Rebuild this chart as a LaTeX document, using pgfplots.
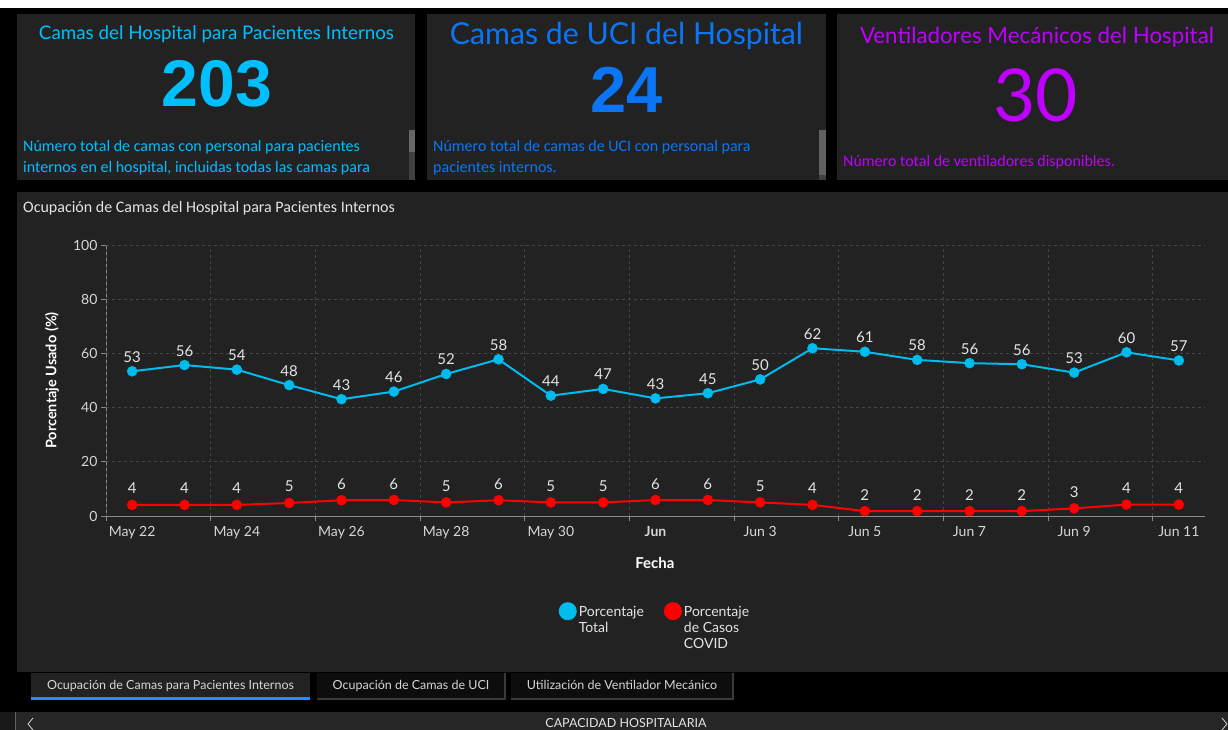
\documentclass[border=0pt]{standalone}
\usepackage{pgfplots}
\pgfplotsset{compat=1.18}
\usepackage{fontspec}
\setmainfont{Lato}
\newfontfamily\carl{Carlito}
\newfontfamily\arial{Liberation Sans}
\definecolor{cPanel}{HTML}{222222}
\definecolor{cCyan}{HTML}{00BFFF}
\definecolor{cBlue}{HTML}{0A76F5}
\definecolor{cPurple}{HTML}{BF00FF}
\definecolor{cLineBlue}{HTML}{00BBEE}
\definecolor{cRed}{HTML}{FF0000}
\definecolor{cGrid}{HTML}{454545}
\definecolor{cAxis}{HTML}{8A8A8A}
\definecolor{cTick}{HTML}{D6D6D6}
\definecolor{cLab}{HTML}{E4E4E4}
\definecolor{cTab}{HTML}{0D0D0D}
\definecolor{cTabBorder}{HTML}{3A3A3A}
\definecolor{cUnder}{HTML}{1E8FFF}
\pgfplotsset{/pgf/number format/assume math mode=true}
\begin{document}
\begin{tikzpicture}[x=1pt,y=1pt]
\useasboundingbox (0,0) rectangle (1228,730);
\fill[black] (0,0) rectangle (1228,730);
\fill[white] (0,722) rectangle (1228,730);
% top panels
\fill[cPanel] (17,550) rectangle (415,716);
\fill[cPanel] (427,550) rectangle (826,716);
\fill[cPanel] (837,550) rectangle (1228,716);
% scrollbars
\fill[black!75!white] (409,550) rectangle (415,578);
\fill[black!60!white] (409,578) rectangle (415,600);
\fill[black!75!white] (819,550) rectangle (826,555);
\fill[black!62!white] (819,555) rectangle (826,600);
% panel titles
\node[anchor=base, text=cCyan, inner sep=0pt] at (216.5,690) {\resizebox{355pt}{!}{Camas del Hospital para Pacientes Internos}};
\node[anchor=base, text=cBlue, inner sep=0pt] at (626.5,685) {\resizebox{353pt}{!}{Camas de UCI del Hospital}};
\node[anchor=base, text=cPurple, inner sep=0pt] at (1037,686) {\resizebox{354pt}{!}{Ventiladores Mecánicos del Hospital}};
% big numbers
\node[anchor=base, text=cCyan, inner sep=0pt, font=\arial\bfseries\fontsize{66}{70}\selectfont] at (217,623) {203};
\node[anchor=base, text=cBlue, inner sep=0pt, font=\arial\bfseries\fontsize{65}{70}\selectfont] at (627,617) {24};
\node[anchor=base, text=cPurple, inner sep=0pt, font=\fontsize{73}{76}\selectfont] at (1035.5,608) {30};
% descriptions
\begin{scope}[every node/.style={anchor=base west, inner sep=0pt, font=\carl\fontsize{16}{18}\selectfont}]
\node[text=cCyan] at (23,578) {Número total de camas con personal para pacientes};
\node[text=cCyan] at (23,557) {internos en el hospital, incluidas todas las camas para};
\node[text=cBlue] at (433,578) {Número total de camas de UCI con personal para};
\node[text=cBlue] at (433,557) {pacientes internos.};
\node[text=cPurple] at (843,563) {Número total de ventiladores disponibles.};
\end{scope}
% chart panel
\fill[cPanel] (17,58) rectangle (1228,538);
\node[anchor=base west, inner sep=0pt, text=cLab, font=\carl\fontsize{16}{18}\selectfont] at (23,517) {Ocupación de Camas del Hospital para Pacientes Internos};
\begin{axis}[
  at={(106pt,214pt)}, anchor=south west, scale only axis,
  width=1099pt, height=271pt,
  xmin=-0.5, xmax=20.5, ymin=0, ymax=100,
  clip=false,
  axis x line*=bottom, axis y line*=left,
  axis line style={draw=cAxis, line width=0.9pt, -},
  tick align=outside,
  ytick={0,20,...,100},
  xtick={0,2,...,20},
  xticklabels={May 22, May 24, May 26, May 28, May 30, \textbf{Jun}, Jun 3, Jun 5, Jun 7, Jun 9, Jun 11},
  xtick style={draw=none},
  ytick style={draw=cAxis, line width=0.8pt},
  major tick length=5pt,
  ymajorgrids,
  grid style={draw=cGrid, dash pattern=on 3pt off 3pt, line width=0.8pt},
  extra x ticks={-0.5,1.5,...,19.5},
  extra x tick labels={},
  extra x tick style={grid=major, xtick style={draw=cAxis, line width=0.8pt}},
  ticklabel style={font=\fontsize{14}{16}\selectfont, text=cTick},
  xticklabel style={anchor=base, yshift=-16pt},
  ylabel={Porcentaje Usado (\%)},
  ylabel style={font=\bfseries\fontsize{14.5}{16}\selectfont, text=white, at={(axis description cs:-0.0491,0.5)}, anchor=center},
  xlabel={Fecha},
  xlabel style={font=\bfseries\fontsize{15}{16}\selectfont, text=white, at={(axis description cs:0.4995,-0.192)}, anchor=base},
  legend style={at={(axis description cs:0.4995,-0.31)}, anchor=north, draw=none, fill=none, text=cLab,
     font=\fontsize{14}{16}\selectfont, legend columns=2, cells={anchor=base west},
     /tikz/every even column/.append style={column sep=18pt}},
]
\addplot[color=cLineBlue, line width=2pt, mark=*, mark size=5pt,
  mark options={solid, fill=cLineBlue, draw=cLineBlue, line width=0.5pt},
  nodes near coords={\pgfmathprintnumber[fixed, precision=0]{\pgfplotspointmeta}},
  every node near coord/.append style={font=\fontsize{15}{16}\selectfont, text=cLab, inner sep=0pt, anchor=base, yshift=9pt},
  legend image code/.code={\fill[cLineBlue] (8pt,5pt) circle (8pt);}]
coordinates {(0,53.4) (1,55.7) (2,54.0) (3,48.3) (4,43.1) (5,45.9) (6,52.4) (7,57.8) (8,44.4) (9,46.9) (10,43.4) (11,45.3) (12,50.4) (13,61.9) (14,60.6) (15,57.6) (16,56.4) (17,56.0) (18,52.9) (19,60.4) (20,57.4)};
\addlegendentry{\begin{tabular}[t]{@{}l@{}}Porcentaje\\Total\end{tabular}}
\addplot[color=cRed, line width=2pt, mark=*, mark size=5pt,
  mark options={solid, fill=cRed, draw=cRed, line width=0.5pt},
  nodes near coords={\pgfmathprintnumber[fixed, precision=0]{\pgfplotspointmeta}},
  every node near coord/.append style={font=\fontsize{15}{16}\selectfont, text=cLab, inner sep=0pt, anchor=base, yshift=11pt},
  legend image code/.code={\fill[cRed] (8pt,5pt) circle (8pt);}]
coordinates {(0,4.1) (1,4.1) (2,4.1) (3,4.8) (4,5.8) (5,5.9) (6,5.0) (7,5.8) (8,5.0) (9,5.0) (10,5.9) (11,5.9) (12,5.0) (13,4.1) (14,1.8) (15,1.8) (16,1.8) (17,1.8) (18,2.8) (19,4.2) (20,4.2)};
\addlegendentry{\begin{tabular}[t]{@{}l@{}}Porcentaje\\de Casos\\COVID\end{tabular}}
\end{axis}
% tabs
\fill[cPanel] (31,30) rectangle (310,57);
\fill[cUnder] (31,30) rectangle (310,33);
\fill[cTab] (317,30) rectangle (505,57);
\draw[cTabBorder, line width=1.5pt] (317,30.75) -- (505,30.75) -- (505,57);
\fill[cTab] (511,30) rectangle (733,57);
\draw[cTabBorder, line width=1.5pt] (511,30.75) -- (733,30.75) -- (733,57);
\begin{scope}[every node/.style={anchor=base, inner sep=0pt, text=cTick, font=\fontsize{12.5}{14}\selectfont}]
\node at (170.5,40) {Ocupación de Camas para Pacientes Internos};
\node at (411,40) {Ocupación de Camas de UCI};
\node at (622,40) {Utilización de Ventilador Mecánico};
\end{scope}
% bottom bar
\fill[black!90!white] (0,0) rectangle (15,18);
\fill[black!85!white] (16,0) rectangle (1228,18);
\draw[black!60!white, line width=1pt] (15.5,0) -- (15.5,18);
\draw[cTick, line width=0.8pt] (33,12) -- (28,6) -- (33,0);
\draw[cTick, line width=0.8pt] (1222,12) -- (1227,6) -- (1222,0);
\node[anchor=base, inner sep=0pt, text=cLab, font=\fontsize{12.5}{14}\selectfont] at (626,2) {CAPACIDAD HOSPITALARIA};
\end{tikzpicture}
\end{document}
